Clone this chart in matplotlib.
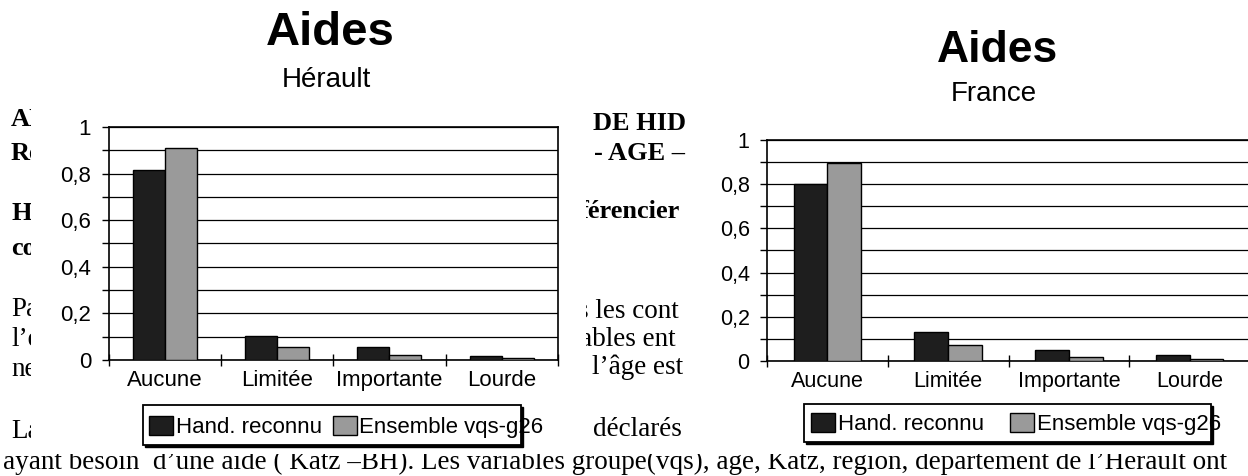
import matplotlib.pyplot as plt
from matplotlib.patches import Rectangle
from matplotlib.ticker import MultipleLocator, FixedLocator, NullFormatter

# =======================
# DATA
# =======================
categories = ["Aucune", "Limitée", "Importante", "Lourde"]
series_labels = ["Hand. reconnu", "Ensemble vqs-g26"]

herault_hand = [0.815, 0.104, 0.054, 0.017]
herault_ens = [0.908, 0.056, 0.020, 0.008]
france_hand = [0.800, 0.130, 0.048, 0.028]
france_ens = [0.897, 0.071, 0.019, 0.010]

y_ticks = [0, 0.2, 0.4, 0.6, 0.8, 1.0]
y_tick_labels = ["0", "0,2", "0,4", "0,6", "0,8", "1"]

# =======================
# CONFIG
# =======================
W, H, DPI = 1248, 476, 100
DARK = "#1e1e1e"
GREY = "#9a9a9a"
SANS = "Liberation Sans"
SERIF = "Liberation Serif"


def fx(x):
    return x / W


def fy(y):
    return 1 - y / H


def px_box(left, top, right, bottom):
    return [fx(left), fy(bottom), (right - left) / W, (bottom - top) / H]


def draw_chart(fig, box, hand, ens, bar_w, tick_fs):
    ax = fig.add_axes(box, zorder=3)
    ax.set_facecolor("white")
    pos = [i + 0.5 for i in range(len(categories))]
    b1 = ax.bar([p - bar_w for p in pos], hand, width=bar_w, align="edge",
                color=DARK, edgecolor="black", linewidth=1.0, zorder=3)
    b2 = ax.bar(pos, ens, width=bar_w, align="edge",
                color=GREY, edgecolor="black", linewidth=1.0, zorder=3)
    ax.set_xlim(0, len(categories))
    ax.set_ylim(0, 1)

    # category separators as major ticks, names on minor ticks
    ax.xaxis.set_major_locator(FixedLocator(range(len(categories) + 1)))
    ax.xaxis.set_major_formatter(NullFormatter())
    ax.xaxis.set_minor_locator(FixedLocator(pos))
    ax.set_xticklabels(categories, minor=True, fontsize=tick_fs, family=SANS)
    ax.tick_params(axis="x", which="major", direction="inout", length=9, width=1)
    ax.tick_params(axis="x", which="minor", length=0, pad=7)

    ax.set_yticks(y_ticks)
    ax.set_yticklabels(y_tick_labels, fontsize=tick_fs, family=SANS)
    ax.yaxis.set_minor_locator(MultipleLocator(0.1))
    ax.tick_params(axis="y", which="both", direction="out", length=5, width=1, pad=7.5)
    ax.yaxis.grid(True, which="both", color="black", linewidth=0.9)
    ax.set_axisbelow(True)
    for s in ax.spines.values():
        s.set_color("black")
        s.set_linewidth(1.2)
    return ax, (b1, b2)


def legend_frame(fig, left, top, right, bottom):
    shadow = Rectangle((fx(left + 2), fy(bottom + 2)), (right - left) / W, (bottom - top) / H,
                       transform=fig.transFigure, facecolor="black", edgecolor="black", zorder=2.4)
    frame = Rectangle((fx(left), fy(bottom)), (right - left) / W, (bottom - top) / H,
                      transform=fig.transFigure, facecolor="white", edgecolor="black",
                      linewidth=1.3, zorder=2.5)
    fig.patches.extend([shadow, frame])


def add_legend(ax, bars, x, y, colspacing):
    ax.legend(bars, series_labels, loc="center left", bbox_to_anchor=(fx(x), fy(y)),
              bbox_transform=ax.figure.transFigure, frameon=False, ncol=2, borderpad=0,
              borderaxespad=0, handlelength=1.08, handleheight=0.95, handletextpad=0.12,
              columnspacing=colspacing, prop={"family": SANS, "size": 16})


fig = plt.figure(figsize=(W / DPI, H / DPI), dpi=DPI)

# =======================
# BACKGROUND DOCUMENT TEXT
# =======================
left_bits = [
    (120, "AN", "bold"), (153, "Re", "bold"), (213, "He", "bold"), (248, "com", "bold"),
    (310, "Par", "normal"), (340, "l’év", "normal"), (369, "ne", "normal"), (432, "La", "normal"),
]
for y, s, w in left_bits:
    fig.text(fx(11), fy(y), s, family=SERIF, fontsize=19 if w == "bold" else 19.5,
             weight=w, va="center", zorder=1)

right_bits = [
    (593, 124, "DE HID", "bold"), (594, 153, "- AGE –", "bold"), (580, 211, "férencier", "bold"),
    (578, 311, "s les cont", "normal"), (580, 339, "ables ent", "normal"),
    (592, 367, "l’âge est", "normal"), (593, 429, "déclarés", "normal"),
]
for x, y, s, w in right_bits:
    fig.text(fx(x), fy(y), s, family=SERIF, fontsize=19 if w == "bold" else 19.5,
             weight=w, va="center", zorder=1)

fig.text(fx(3), fy(462), "ayant besoin  d’une aide ( Katz –BH). Les variables groupe(vqs), âge, "
         "Katz, région, département de l’Hérault ont",
         family=SERIF, fontsize=19.5, va="center", zorder=1)

# white chart areas pasted over the page
for left, right in [(31, 586), (688, W)]:
    fig.patches.append(Rectangle((fx(left), fy(447)), (right - left) / W, 447 / H,
                                 transform=fig.transFigure, facecolor="white",
                                 edgecolor="none", zorder=2))
fig.patches.append(Rectangle((0, fy(454)), 1, 9 / H, transform=fig.transFigure,
                             facecolor="white", edgecolor="none", zorder=2))

# =======================
# CHARTS
# =======================
ax1, bars1 = draw_chart(fig, px_box(108.6, 127, 558, 360), herault_hand, herault_ens, 0.285, 16)
fig.text(fx(330), fy(33), "Aides", family=SANS, fontsize=34, weight="bold",
         ha="center", va="center", zorder=4)
fig.text(fx(326), fy(80), "Hérault", family=SANS, fontsize=20, ha="center", va="center", zorder=4)
legend_frame(fig, 143, 405, 521, 445)
add_legend(ax1, bars1, 149, 427, 0.5)

ax2, bars2 = draw_chart(fig, px_box(767, 140, 1250, 361), france_hand, france_ens, 0.28, 15.5)
fig.text(fx(998), fy(51), "Aides", family=SANS, fontsize=32, weight="bold",
         ha="center", va="center", zorder=4)
fig.text(fx(994), fy(94), "France", family=SANS, fontsize=20, ha="center", va="center", zorder=4)
legend_frame(fig, 804, 404, 1211, 442)
add_legend(ax2, bars2, 811, 424, 1.2)

fig.savefig("out.png", dpi=DPI)
